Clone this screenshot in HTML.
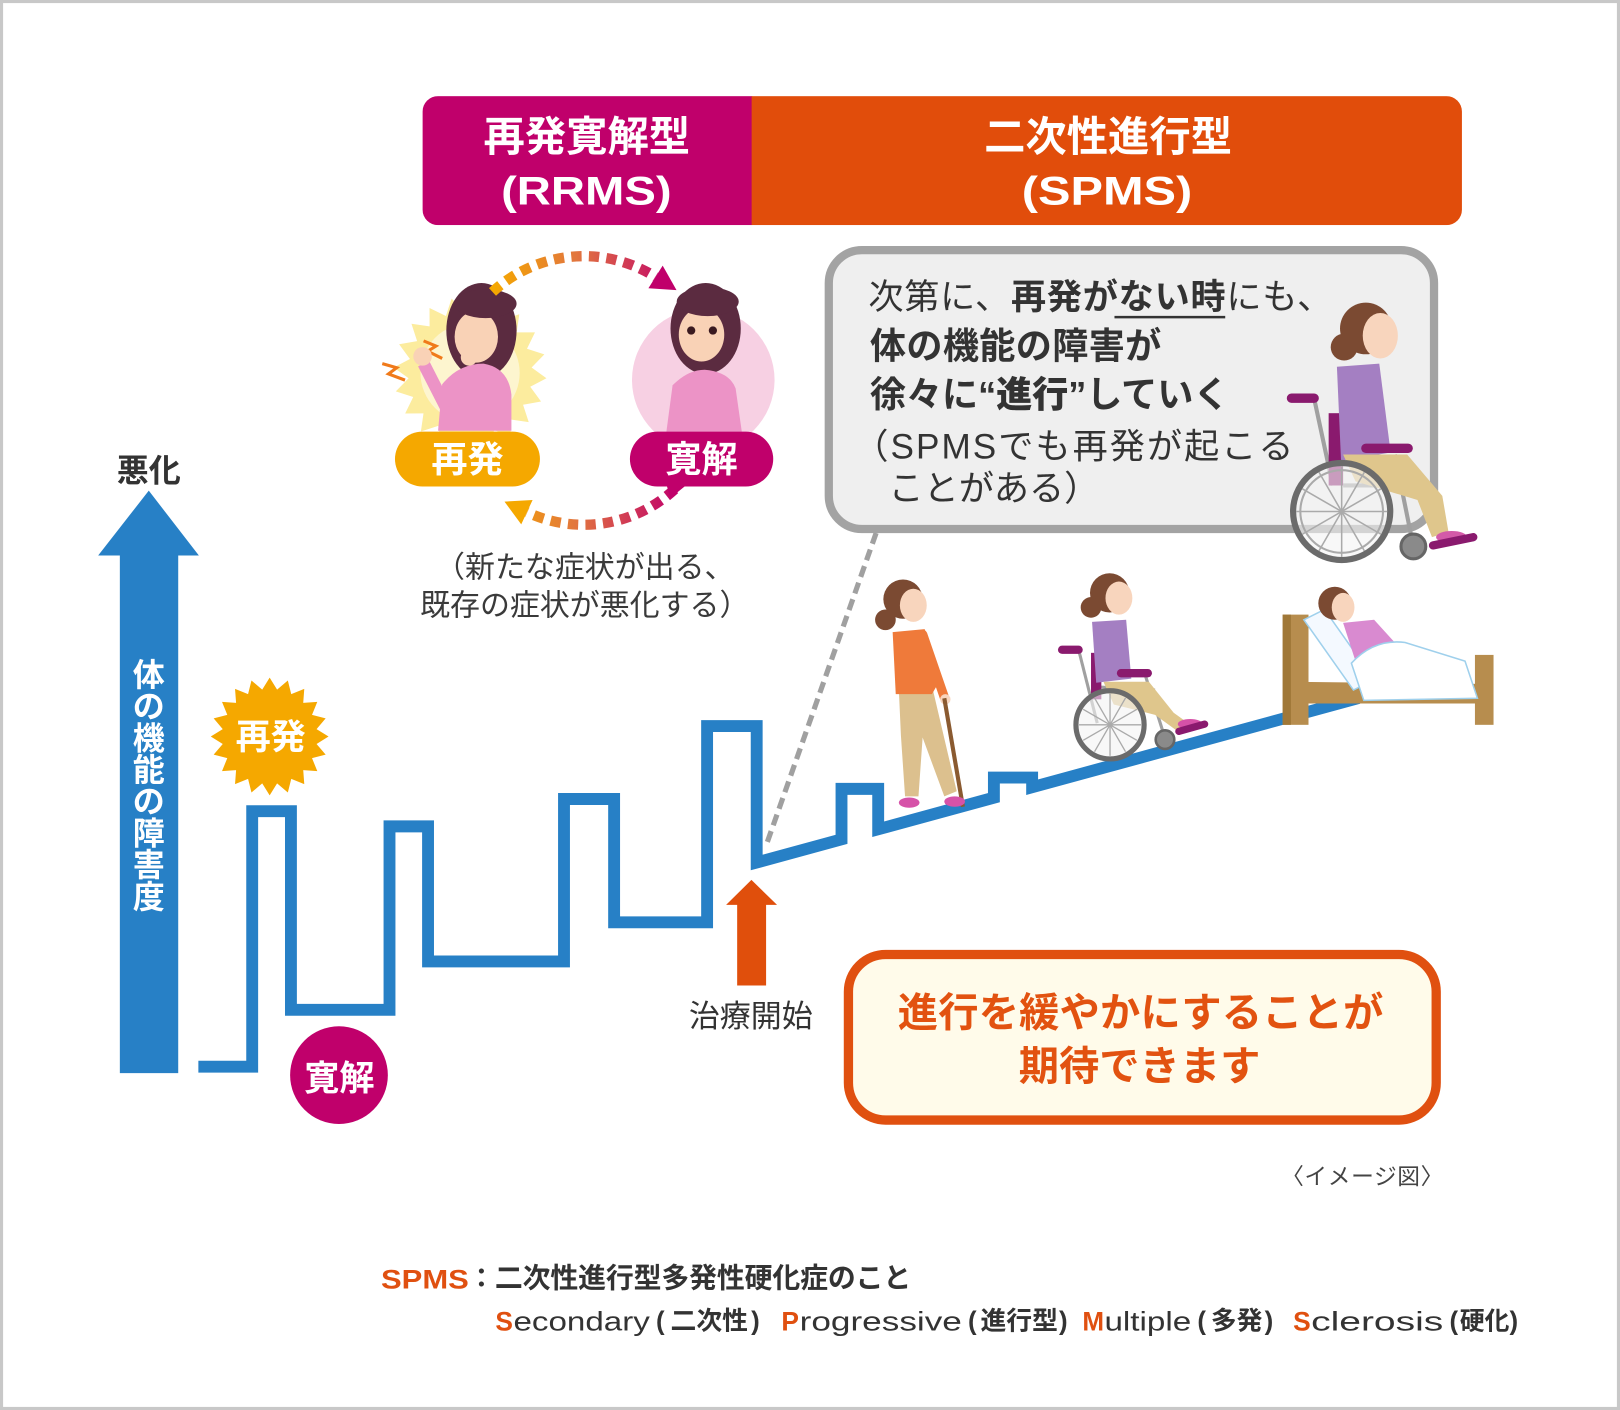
<!DOCTYPE html>
<html><head><meta charset="utf-8">
<style>
html,body{margin:0;padding:0;background:#fff;}
svg{display:block;}
text{font-family:"Liberation Sans","Noto Sans CJK JP",sans-serif;}
</style></head><body>
<svg width="1620" height="1410" viewBox="0 0 1568 1365" preserveAspectRatio="none" xmlns="http://www.w3.org/2000/svg">
<defs>
 <clipPath id="hdr"><rect x="409" y="93" width="1006" height="125" rx="15"/></clipPath>
 <linearGradient id="cyc" gradientUnits="userSpaceOnUse" x1="478" y1="0" x2="655" y2="0">
   <stop offset="0" stop-color="#f5a800"/><stop offset="0.45" stop-color="#e2763e"/><stop offset="1" stop-color="#c0006b"/>
 </linearGradient>
</defs>
<rect x="0" y="0" width="1568" height="1365" fill="#fff"/>
<rect x="1.5" y="1.5" width="1565" height="1362" fill="none" stroke="#c8c8c8" stroke-width="3"/>

<!-- header -->
<g clip-path="url(#hdr)">
<rect x="409" y="93" width="319" height="125" fill="#c0006b"/>
<rect x="727.5" y="93" width="688" height="125" fill="#e14d0b"/>
</g>
<text x="568" y="146" font-size="40" font-weight="700" fill="#fff" text-anchor="middle">再発寛解型</text>
<text x="567.5" y="198" font-size="39" font-weight="700" fill="#fff" text-anchor="middle" textLength="165" lengthAdjust="spacingAndGlyphs">(RRMS)</text>
<text x="1072.5" y="146" font-size="40" font-weight="700" fill="#fff" text-anchor="middle">二次性進行型</text>
<text x="1071.5" y="198" font-size="39" font-weight="700" fill="#fff" text-anchor="middle" textLength="165" lengthAdjust="spacingAndGlyphs">(SPMS)</text>

<!-- cycle: left starburst + woman -->
<polygon transform="translate(455,361) scale(1.3) rotate(4)" fill="#fcec9e" points="57,0 45.4,7.2 54.2,17.6 41,20.9 46.1,33.5 32.5,32.5 33.5,46.1 20.9,41 17.6,54.2 7.2,45.4 0,57 -7.2,45.4 -17.6,54.2 -20.9,41 -33.5,46.1 -32.5,32.5 -46.1,33.5 -41,20.9 -54.2,17.6 -45.4,7.2 -57,0 -45.4,-7.2 -54.2,-17.6 -41,-20.9 -46.1,-33.5 -32.5,-32.5 -33.5,-46.1 -20.9,-41 -17.6,-54.2 -7.2,-45.4 0,-57 7.2,-45.4 17.6,-54.2 20.9,-41 33.5,-46.1 32.5,-32.5 46.1,-33.5 41,-20.9 54.2,-17.6 45.4,-7.2"/>
<circle cx="455" cy="361" r="48" fill="#fdf5cf"/>
<polyline points="370,352 384,356 376,362 392,368" fill="none" stroke="#f07a1a" stroke-width="3"/>
<polyline points="410,330 422,335 414,340 428,347" fill="none" stroke="#f07a1a" stroke-width="3"/>
<ellipse cx="466" cy="320" rx="34" ry="46" fill="#5b2b40"/>
<ellipse cx="461" cy="326" rx="21" ry="25" fill="#f9d2b6"/>
<ellipse cx="470" cy="294" rx="30" ry="14" fill="#5b2b40"/>
<path d="M424,417 L428,372 Q444,352 468,352 Q492,356 495,382 L495,417 Z" fill="#ec93c6"/>
<path d="M432,395 L410,352" stroke="#ec93c6" stroke-width="12" fill="none"/>
<circle cx="409" cy="345" r="9" fill="#f9d2b6"/>
<circle cx="454" cy="346" r="8" fill="#f9d2b6"/>

<!-- cycle: right circle + woman -->
<circle cx="680.7" cy="367.8" r="69" fill="#f7d0e3"/>
<ellipse cx="683" cy="318" rx="34" ry="44" fill="#5b2b40"/>
<ellipse cx="679" cy="324" rx="22" ry="26" fill="#f9d2b6"/>
<ellipse cx="685" cy="292" rx="30" ry="14" fill="#5b2b40"/>
<circle cx="669" cy="320" r="4" fill="#3a1a20"/><circle cx="690" cy="320" r="4" fill="#3a1a20"/>
<path d="M645,418 L651,373 Q666,358 682,358 Q706,360 712,376 L718,418 Z" fill="#ec93c6"/>

<!-- cycle arrows -->
<path d="M476.7,282.6 A130,130 0 0 1 634.5,268.1" fill="none" stroke="url(#cyc)" stroke-width="10" stroke-dasharray="10 7"/>
<polygon points="654.8,280.9 627.6,279.1 641.4,257.1" fill="#c0006b"/>
<path d="M653,473.7 A130,130 0 0 1 510,495.8" fill="none" stroke="url(#cyc)" stroke-width="10" stroke-dasharray="10 7"/>
<polygon points="488.3,485.6 515.5,484 504.5,507.6" fill="#f5a800"/>

<!-- pills -->
<rect x="382.3" y="417.8" width="140.3" height="53.2" rx="26.6" fill="#f5a800"/>
<text x="452.5" y="457" font-size="35" font-weight="700" fill="#fff" text-anchor="middle">再発</text>
<rect x="609.7" y="417.8" width="138.7" height="53.2" rx="26.6" fill="#c0006b"/>
<polygon points="645,469 665,469 649,482" fill="#c0006b"/>
<text x="679" y="457" font-size="35" font-weight="700" fill="#fff" text-anchor="middle">寛解</text>

<text x="566" y="559" font-size="29" fill="#3a3a3a" text-anchor="middle">（新たな症状が出る、</text>
<text x="566" y="596" font-size="29" fill="#3a3a3a" text-anchor="middle">既存の症状が悪化する）</text>

<!-- left axis arrow -->
<text x="144" y="466" font-size="31" font-weight="700" fill="#333" text-anchor="middle">悪化</text>
<polygon points="144,475 192.5,537.8 172.5,537.8 172.5,1038.9 116,1038.9 116,537.8 95,537.8" fill="#2780c6"/>
<g font-size="31" font-weight="700" fill="#fff" text-anchor="middle">
<text x="144" y="664">体</text>
<text x="144" y="694.7">の</text>
<text x="144" y="725.4">機</text>
<text x="144" y="756.1">能</text>
<text x="144" y="786.8">の</text>
<text x="144" y="817.5">障</text>
<text x="144" y="848.2">害</text>
<text x="144" y="878.9">度</text>
</g>

<!-- bubble -->
<line x1="848" y1="516" x2="741.7" y2="818" stroke="#a0a0a0" stroke-width="5" stroke-dasharray="11 6"/>
<rect x="802.2" y="242.1" width="585.8" height="270" rx="32" fill="#efefef" stroke="#a3a3a3" stroke-width="8"/>
<text x="840.5" y="299" font-size="34" fill="#333" textLength="449" lengthAdjust="spacing">次第に、<tspan font-weight="700">再発がない時</tspan>にも、</text>
<line x1="1078.7" y1="307" x2="1185.9" y2="307" stroke="#333" stroke-width="2.5"/>
<text x="842" y="347.2" font-size="35" font-weight="700" fill="#333" textLength="282" lengthAdjust="spacing">体の機能の障害が</text>
<text x="842" y="394" font-size="35" font-weight="700" fill="#333" textLength="348" lengthAdjust="spacing">徐々に“<tspan font-weight="900">進行</tspan>”していく</text>
<text x="826" y="444" font-size="34" fill="#333" textLength="426" lengthAdjust="spacing">（SPMSでも再発が起こる</text>
<text x="826" y="484.3" font-size="34" fill="#333" textLength="238" lengthAdjust="spacing">　ことがある）</text>

<!-- bubble wheelchair woman -->
<g>
<line x1="1272" y1="386" x2="1290" y2="470" stroke="#a0a0a0" stroke-width="4"/>
<line x1="1300" y1="470" x2="1368" y2="470" stroke="#a0a0a0" stroke-width="4"/>
<line x1="1350" y1="440" x2="1368" y2="529" stroke="#a0a0a0" stroke-width="4"/>
<rect x="1286" y="400" width="14" height="70" fill="#8a1a6e"/>
<polygon points="1294,355 1335,352 1346,438 1298,446" fill="#a47fc2"/>
<circle cx="1322" cy="318" r="25" fill="#7b4a32"/>
<ellipse cx="1336" cy="325" rx="17" ry="22" fill="#f8d5bd"/>
<circle cx="1301" cy="336" r="13" fill="#7b4a32"/>
<polygon points="1300,440 1362,440 1396,480 1402,515 1386,520 1372,484 1312,466" fill="#dfc68c"/>
<ellipse cx="1405" cy="520" rx="15" ry="6" fill="#d35aa8"/>
<line x1="1250" y1="385.5" x2="1272" y2="385.5" stroke="#8a1a6e" stroke-width="9" stroke-linecap="round"/>
<line x1="1322" y1="434" x2="1363" y2="434" stroke="#8a1a6e" stroke-width="9" stroke-linecap="round"/>
<line x1="1387" y1="528" x2="1426" y2="520" stroke="#8a1a6e" stroke-width="8" stroke-linecap="round"/>
<circle cx="1298.6" cy="495.2" r="47" fill="#f4f4f4" fill-opacity="0.6" stroke="#6b6b6b" stroke-width="6"/>
<circle cx="1298.6" cy="495.2" r="40" fill="none" stroke="#aaa" stroke-width="2"/>
<g stroke="#aaa" stroke-width="1.5">
<line x1="1254.6" y1="495.2" x2="1342.6" y2="495.2"/><line x1="1260.5" y1="473.2" x2="1336.7" y2="517.2"/>
<line x1="1276.6" y1="457.1" x2="1320.6" y2="533.3"/><line x1="1298.6" y1="451.2" x2="1298.6" y2="539.2"/>
<line x1="1320.6" y1="457.1" x2="1276.6" y2="533.3"/><line x1="1336.7" y1="473.2" x2="1260.5" y2="517.2"/>
</g>
<circle cx="1368" cy="529" r="12" fill="#8a8a8a" stroke="#666" stroke-width="3"/>
</g>

<!-- step line -->
<path d="M192,1032.6 H244.1 V785.3 H281.6 V977.6 H377 V800 H414.3 V930.8 H545.9 V773.5 H594.4 V892.9 H684.4 V702.9 H732.4 V835 L814.5,812.6 V763.7 H850 V802.8 L962,772.2 V752.8 H999 V762.1 L1315,675.8" fill="none" stroke="#2780c6" stroke-width="11.5" stroke-linejoin="miter"/>

<!-- starburst 再発 -->
<polygon transform="translate(261,713)" fill="#f5a800" points="57,0 45.4,7.2 54.2,17.6 41,20.9 46.1,33.5 32.5,32.5 33.5,46.1 20.9,41 17.6,54.2 7.2,45.4 0,57 -7.2,45.4 -17.6,54.2 -20.9,41 -33.5,46.1 -32.5,32.5 -46.1,33.5 -41,20.9 -54.2,17.6 -45.4,7.2 -57,0 -45.4,-7.2 -54.2,-17.6 -41,-20.9 -46.1,-33.5 -32.5,-32.5 -33.5,-46.1 -20.9,-41 -17.6,-54.2 -7.2,-45.4 0,-57 7.2,-45.4 17.6,-54.2 20.9,-41 33.5,-46.1 32.5,-32.5 46.1,-33.5 41,-20.9 54.2,-17.6 45.4,-7.2"/>
<text x="262" y="725" font-size="34" font-weight="700" fill="#fff" text-anchor="middle">再発</text>
<circle cx="328.1" cy="1040.8" r="47.3" fill="#c0006b"/>
<text x="328.5" y="1055.5" font-size="34" font-weight="700" fill="#fff" text-anchor="middle">寛解</text>

<!-- orange arrow -->
<polygon points="727.3,851.8 752.1,876 741.5,876 741.5,954 713.5,954 713.5,876 702.8,876" fill="#e04f0c"/>
<text x="726.7" y="994" font-size="30" fill="#333" text-anchor="middle">治療開始</text>

<!-- cane woman -->
<g>
<polygon points="870,668 903,668 926,766 914,771 893,714 889,771 876,771 872,712" fill="#dcc08e"/>
<polygon points="864,612 895,609 909,660 902,672 867,672" fill="#ef7a3a"/>
<line x1="893" y1="614" x2="914" y2="675" stroke="#ef7a3a" stroke-width="9" stroke-linecap="round"/>
<circle cx="915" cy="677" r="5" fill="#f8d5bd"/>
<line x1="914" y1="676" x2="932" y2="781" stroke="#8a5a30" stroke-width="4"/>
<circle cx="874" cy="580" r="19" fill="#7b4a32"/>
<ellipse cx="884" cy="586" rx="13" ry="16" fill="#f8d5bd"/>
<circle cx="857" cy="600" r="10" fill="#7b4a32"/>
<ellipse cx="880" cy="777" rx="10" ry="5" fill="#d652a8"/>
<ellipse cx="924" cy="776" rx="10" ry="5" fill="#d652a8"/>
</g>

<!-- middle wheelchair woman -->
<g>
<line x1="1044" y1="629" x2="1062" y2="700" stroke="#a0a0a0" stroke-width="3"/>
<line x1="1062" y1="665" x2="1118" y2="668" stroke="#a0a0a0" stroke-width="3"/>
<line x1="1108" y1="652" x2="1128" y2="716" stroke="#a0a0a0" stroke-width="3"/>
<rect x="1056" y="632" width="10" height="45" fill="#8a1a6e"/>
<polygon points="1057,602 1090,600 1095,657 1061,661" fill="#a47fc2"/>
<circle cx="1074" cy="574" r="19" fill="#7b4a32"/>
<ellipse cx="1083" cy="579" rx="13" ry="16" fill="#f8d5bd"/>
<circle cx="1056" cy="588" r="10" fill="#7b4a32"/>
<polygon points="1068,660 1112,660 1136,690 1150,700 1140,708 1118,692 1078,682" fill="#dfc68c"/>
<ellipse cx="1152" cy="701" rx="12" ry="5" fill="#d652a8"/>
<line x1="1028" y1="629" x2="1044" y2="629" stroke="#8a1a6e" stroke-width="8" stroke-linecap="round"/>
<line x1="1085" y1="651.7" x2="1111" y2="651.7" stroke="#8a1a6e" stroke-width="8" stroke-linecap="round"/>
<line x1="1141" y1="708" x2="1166" y2="701" stroke="#8a1a6e" stroke-width="7" stroke-linecap="round"/>
<circle cx="1074.4" cy="701.7" r="33" fill="#f4f4f4" fill-opacity="0.6" stroke="#6b6b6b" stroke-width="5"/>
<g stroke="#aaa" stroke-width="1.3">
<line x1="1044.4" y1="701.7" x2="1104.4" y2="701.7"/><line x1="1048.4" y1="686.7" x2="1100.4" y2="716.7"/>
<line x1="1059.4" y1="675.7" x2="1089.4" y2="727.7"/><line x1="1074.4" y1="671.7" x2="1074.4" y2="731.7"/>
<line x1="1089.4" y1="675.7" x2="1059.4" y2="727.7"/><line x1="1100.4" y1="686.7" x2="1048.4" y2="716.7"/>
</g>
<circle cx="1127.6" cy="716" r="9" fill="#8a8a8a" stroke="#666" stroke-width="2.5"/>
</g>

<!-- bed -->
<g>
<polygon points="1248,660 1430,662 1430,681 1248,681" fill="#b78d4e"/>
<rect x="1241.5" y="595" width="25" height="106.7" fill="#b78d4e"/>
<rect x="1241.5" y="595" width="8" height="106.7" fill="#a07838"/>
<rect x="1427.6" y="634" width="18" height="67.7" fill="#b78d4e"/>
<polygon points="1262,600 1282,590 1330,658 1310,668" fill="#f4f9ff" stroke="#9fd0ec" stroke-width="1.5"/>
<polygon points="1300,603 1330,600 1350,622 1348,634 1312,640" fill="#d98ad0"/>
<circle cx="1292" cy="584" r="16" fill="#7b4a32"/>
<ellipse cx="1300" cy="588" rx="11" ry="14" fill="#f8d5bd"/>
<path d="M1308,642 Q1330,618 1360,622 L1418,640 L1430,676 L1320,678 Z" fill="#fff" stroke="#9fd0ec" stroke-width="1.5"/>
</g>

<!-- orange box -->
<rect x="821.2" y="924" width="568.9" height="160.3" rx="36" fill="#fffbea" stroke="#e05010" stroke-width="9"/>
<text x="1104" y="993.8" font-size="39" font-weight="700" fill="#e25210" text-anchor="middle" textLength="470" lengthAdjust="spacing">進行を緩やかにすることが</text>
<text x="1103" y="1045.4" font-size="39" font-weight="700" fill="#e25210" text-anchor="middle">期待できます</text>

<text x="1240" y="1146.7" font-size="22" fill="#444" textLength="157" lengthAdjust="spacing">〈イメージ図〉</text>

<!-- bottom notes -->
<text x="368.8" y="1247.5" font-size="26" font-weight="700" fill="#e05010" textLength="85" lengthAdjust="spacingAndGlyphs">SPMS</text>
<text x="453" y="1246.5" font-size="26" font-weight="700" fill="#333">：</text>
<text x="479" y="1246.5" font-size="27" font-weight="700" fill="#333" textLength="403" lengthAdjust="spacing">二次性進行型多発性硬化症のこと</text>

<g font-size="26">
<text x="479.5" y="1288" font-weight="700" fill="#e05010" textLength="17" lengthAdjust="spacingAndGlyphs">S</text>
<text x="497" y="1288" fill="#333" textLength="132" lengthAdjust="spacingAndGlyphs">econdary</text>
<g font-weight="700" fill="#333">
<text x="635" y="1287" font-size="25">(</text>
<text x="649" y="1287" font-size="25">二次性</text>
<text x="727" y="1287" font-size="25">)</text>
<text x="937" y="1287" font-size="25">(</text>
<text x="949" y="1287" font-size="25">進行型</text>
<text x="1025" y="1287" font-size="25">)</text>
<text x="1159" y="1287" font-size="25">(</text>
<text x="1172" y="1287" font-size="25">多発</text>
<text x="1224" y="1287" font-size="25">)</text>
<text x="1403" y="1287" font-size="25">(</text>
<text x="1413" y="1287" font-size="24">硬化</text>
<text x="1461" y="1287" font-size="25">)</text>
</g>
<text x="756.3" y="1288" font-weight="700" fill="#e05010" textLength="17" lengthAdjust="spacingAndGlyphs">P</text>
<text x="774" y="1288" fill="#333" textLength="157" lengthAdjust="spacingAndGlyphs">rogressive</text>
<text x="1047.7" y="1288" font-weight="700" fill="#e05010" textLength="21" lengthAdjust="spacingAndGlyphs">M</text>
<text x="1069" y="1288" fill="#333" textLength="84" lengthAdjust="spacingAndGlyphs">ultiple</text>
<text x="1251.6" y="1288" font-weight="700" fill="#e05010" textLength="17" lengthAdjust="spacingAndGlyphs">S</text>
<text x="1269" y="1288" fill="#333" textLength="128" lengthAdjust="spacingAndGlyphs">clerosis</text>
</g>
</svg>
</body></html>
